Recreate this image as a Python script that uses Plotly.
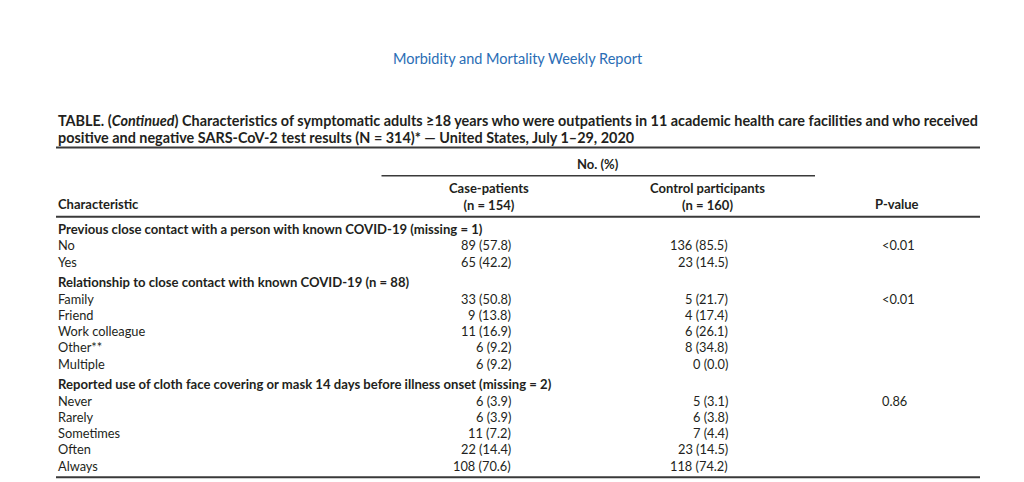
import plotly.graph_objects as go

# ---------------- data ----------------
report_name = "Morbidity and Mortality Weekly Report"
title_line1 = "TABLE. (<i>Continued</i>) Characteristics of symptomatic adults \u226518 years who were outpatients in 11 academic health care facilities and who received"
title_line2 = "positive and negative SARS-CoV-2 test results (N = 314)* \u2014 United States, July 1\u201329, 2020"

col_group_label = "No. (%)"
col_labels = ["Characteristic", "Case-patients<br>(n = 154)", "Control participants<br>(n = 160)", "P-value"]

sections = [
    "Previous close contact with a person with known COVID-19 (missing = 1)",
    "Relationship to close contact with known COVID-19 (n = 88)",
    "Reported use of cloth face covering or mask 14 days before illness onset (missing = 2)",
]
section_p_values = ["<0.01", "<0.01", "0.86"]

row_section = [0, 0, 1, 1, 1, 1, 1, 2, 2, 2, 2, 2]
row_labels = ["No", "Yes", "Family", "Friend", "Work colleague", "Other**", "Multiple",
              "Never", "Rarely", "Sometimes", "Often", "Always"]
case_n = [89, 65, 33, 9, 11, 6, 6, 6, 6, 11, 22, 108]
case_pct = [57.8, 42.2, 50.8, 13.8, 16.9, 9.2, 9.2, 3.9, 3.9, 7.2, 14.4, 70.6]
control_n = [136, 23, 5, 4, 6, 8, 0, 5, 6, 7, 23, 118]
control_pct = [85.5, 14.5, 21.7, 17.4, 26.1, 34.8, 0.0, 3.1, 3.8, 4.4, 14.5, 74.2]

# ---------------- layout constants ----------------
W, H = 1024, 482
OFF = 8  # default page margin of the html body
FONT = "Lato"
TXT = "#231f20"
LINE = "#3a3a3a"
X_LEFT, X_RIGHT = 56, 980
X_CASE_R, X_CTRL_R, X_P_L = 513, 730, 880
X_CASE_C, X_CTRL_C, X_P_C = 489, 707, 897
Y0, STEP, GAP = 229, 16.25, 4.6
FS = 12.8
FSB = 13.1

fig = go.Figure()
ann = []

def text(x, y, s, anchor="left", size=FS, bold=False, color=TXT):
    if bold:
        s = "<b>" + s + "</b>"
    ann.append(dict(x=x, y=y, xref="x", yref="y", text=s, showarrow=False,
                    xanchor=anchor, yanchor="middle", align=anchor if anchor != "center" else "center",
                    font=dict(family=FONT, size=size, color=color)))

# header
text(517.5, 58, report_name, "center", size=14.5, color="#2a6db5")
text(X_LEFT, 120, title_line1, "left", size=14.4, bold=True)
text(X_LEFT, 137.5, title_line2, "left", size=14.4, bold=True)
text(598, 163.5, col_group_label, "center", size=13, bold=True)
text(X_LEFT, 204, col_labels[0], "left", size=13, bold=True)
text(X_CASE_C, 196.5, col_labels[1], "center", size=13, bold=True)
text(X_CTRL_C, 196.5, col_labels[2], "center", size=13, bold=True)
text(X_P_C, 204, col_labels[3], "center", size=13, bold=True)

# body
y = Y0
prev_sec = None
for i, lab in enumerate(row_labels):
    sec = row_section[i]
    if sec != prev_sec:
        if prev_sec is not None:
            y += GAP
        text(X_LEFT, y, sections[sec], "left", size=FSB, bold=True)
        y += STEP
        first = True
    else:
        first = False
    text(X_LEFT, y, lab, "left")
    text(X_CASE_R, y, f"{case_n[i]} ({case_pct[i]:.1f})", "right")
    text(X_CTRL_R, y, f"{control_n[i]} ({control_pct[i]:.1f})", "right")
    if first:
        text(X_P_L, y, section_p_values[sec].replace("<", "&lt;"), "left")
    prev_sec = sec
    y += STEP
y_bottom = y - STEP + 11.5

shapes = [
    dict(type="line", x0=X_LEFT, x1=X_RIGHT, y0=147.5, y1=147.5, line=dict(color=LINE, width=2)),
    dict(type="line", x0=381.5, x1=815, y0=175.7, y1=175.7, line=dict(color=LINE, width=1.6)),
    dict(type="line", x0=X_LEFT, x1=X_RIGHT, y0=216.7, y1=216.7, line=dict(color=LINE, width=2)),
    dict(type="line", x0=X_LEFT, x1=X_RIGHT, y0=y_bottom, y1=y_bottom, line=dict(color=LINE, width=2)),
]
for s in shapes:
    s.update(xref="x", yref="y")

fig.update_layout(
    width=W, height=H, margin=dict(l=0, r=0, t=0, b=0),
    paper_bgcolor="white", plot_bgcolor="white",
    xaxis=dict(range=[OFF, W + OFF], visible=False, fixedrange=True),
    yaxis=dict(range=[H + OFF, OFF], visible=False, fixedrange=True),
    annotations=ann, shapes=shapes, showlegend=False,
)
fig.write_html("out.html")
